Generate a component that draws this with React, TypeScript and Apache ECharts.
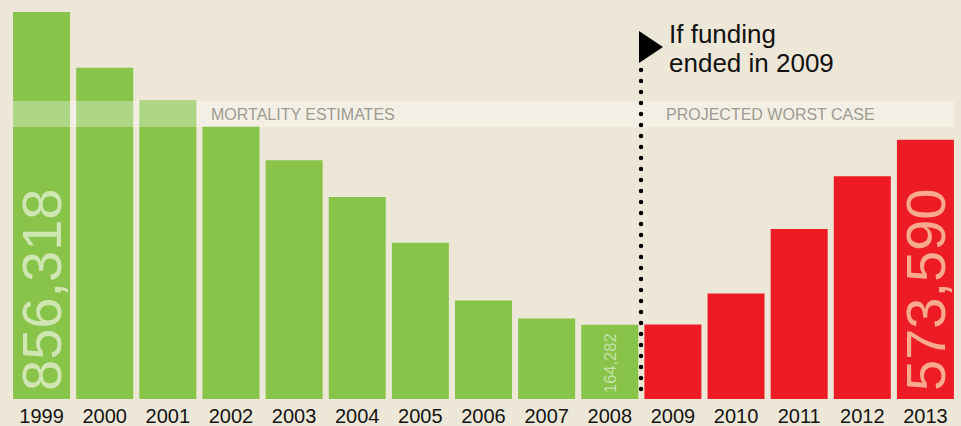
import React, { useEffect, useRef } from "react";
import * as echarts from "echarts";

const years = ["1999", "2000", "2001", "2002", "2003", "2004", "2005", "2006", "2007", "2008", "2009", "2010", "2011", "2012", "2013"];
const estimates = [856318, 733000, 660400, 603000, 528300, 446900, 345600, 217900, 178300, 164282];
const projected = [165100, 233300, 376400, 493100, 573590];
const bandLabels = ["MORTALITY ESTIMATES", "PROJECTED WORST CASE"];
const annotation = "If funding\nended in 2009";

const GREEN = "#88c34a";
const RED = "#ed1c24";
const BG = "#ede7d7";
const NUM_FONT = "'Liberation Sans', Arial, sans-serif";

export default function App() {
  const ref = useRef<HTMLDivElement>(null);
  useEffect(() => {
    if (!ref.current) return;
    const chart = echarts.init(ref.current, undefined, { renderer: "svg" });
    const all = [...estimates, ...projected];
    const n = all.length;
    const lastEst = estimates.length - 1;
    const fmt = (v: number) => v.toLocaleString("en-US");
    const data = all.map((v, i) => {
      const isEst = i < estimates.length;
      const item: any = { value: v, itemStyle: { color: isEst ? GREEN : RED } };
      if (i === 0 || i === n - 1) {
        item.label = {
          show: true,
          fontSize: 56,
          fontFamily: NUM_FONT,
          fontWeight: 400,
          color: isEst ? "#cfe6b3" : "#f9a98d",
          distance: 8,
        };
      } else if (i === lastEst) {
        item.label = {
          show: true,
          fontSize: 16.5,
          fontFamily: NUM_FONT,
          fontWeight: 400,
          color: "#c5e1a5",
          distance: 6,
        };
      }
      return item;
    });

    chart.setOption({
      animation: false,
      backgroundColor: BG,
      grid: { left: 10, right: 4, top: 12, bottom: 25, containLabel: false },
      xAxis: {
        type: "category",
        data: years,
        axisLine: { show: false },
        axisTick: { show: false },
        axisLabel: {
          margin: 7,
          fontSize: 20,
          fontFamily: "Liberation Sans",
          color: "#141414",
          interval: 0,
        },
      },
      yAxis: {
        type: "value",
        min: 0,
        max: estimates[0],
        show: false,
        splitLine: { show: false },
      },
      series: [
        {
          type: "bar",
          data,
          barWidth: 57,
          label: {
            show: false,
            position: "insideBottom",
            rotate: 90,
            align: "left",
            verticalAlign: "middle",
            formatter: (p: any) => fmt(p.value),
          },
        },
      ],
      graphic: [
        {
          type: "rect",
          z: 100,
          shape: { x: 13, y: 101, width: 941, height: 26 },
          style: { fill: "rgba(255,255,255,0.32)" },
          silent: true,
        },
        {
          type: "text",
          z: 101,
          x: 211,
          y: 114.5,
          style: {
            text: bandLabels[0],
            fontSize: 16,
            fontFamily: "Liberation Sans",
            fill: "#9e9b92",
            verticalAlign: "middle",
            align: "left",
          },
        },
        {
          type: "text",
          z: 101,
          x: 666,
          y: 114.5,
          style: {
            text: bandLabels[1],
            fontSize: 16,
            fontFamily: "Liberation Sans",
            fill: "#9e9b92",
            verticalAlign: "middle",
            align: "left",
          },
        },
        {
          type: "line",
          z: 102,
          shape: { x1: 641, y1: 70, x2: 641, y2: 400 },
          style: { stroke: "#000", lineWidth: 4.5, lineDash: [0, 11], lineCap: "round" },
        },
        {
          type: "polygon",
          z: 102,
          shape: { points: [[639, 31], [663, 47], [639, 63]] },
          style: { fill: "#000" },
        },
        {
          type: "text",
          z: 102,
          x: 669,
          y: 19,
          style: {
            text: annotation,
            fontSize: 26,
            lineHeight: 29,
            fontFamily: "Liberation Sans",
            fill: "#111",
            align: "left",
            verticalAlign: "top",
          },
        },
      ],
    });
    return () => chart.dispose();
  }, []);
  return (
    <div
      ref={ref}
      style={{ position: "fixed", left: 0, top: 0, width: 961, height: 426 }}
    />
  );
}
